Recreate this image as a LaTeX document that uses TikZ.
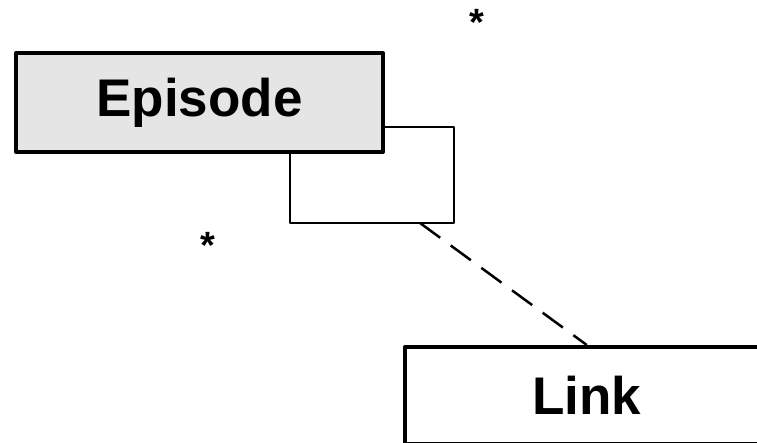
\documentclass[tikz,border=0pt]{standalone}
\usepackage{fontspec}
\setmainfont{Liberation Sans}
\usetikzlibrary{positioning}
\begin{document}
\begin{tikzpicture}[x=1pt, y=-1pt, line cap=round, line join=round]
	\tikzset{class style/.style={draw, line width=4pt, rectangle, inner sep=0pt, font=\fontsize{53}{60}\selectfont\bfseries},
		mult style/.style={font=\fontsize{38}{40}\selectfont\bfseries, inner sep=0pt}}
	\useasboundingbox (0,0) rectangle (757,443);
	\draw[line width=2pt] (290,127) rectangle (454,223);
	\node[class style, fill=black!10, minimum width=367pt, minimum height=99pt] (episode) at (199.5,102.5) {Episode};
	\node[class style, line width=3.5pt, anchor=north west, minimum width=364pt, minimum height=97pt] (link) at (403,345) {Link};
	\coordinate (loop) at (420,223);
	\draw[line width=2.5pt, line cap=butt, dash pattern=on 25pt off 13pt] (loop) -- (link.north);
	\node[mult style] (m1) at (477,22) {*};
	\node[mult style] (m2) at (208,245) {*};
\end{tikzpicture}
\end{document}
